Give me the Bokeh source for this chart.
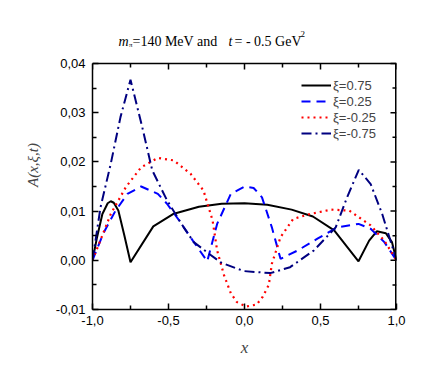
import math
from bokeh.plotting import figure
from bokeh.models import FixedTicker, CustomJSTickFormatter, Label, Range1d
from bokeh.embed import file_html
from bokeh.resources import INLINE

# ---- data ----
x_p075 = [-1, -0.97, -0.935, -0.90, -0.88, -0.86, -0.83, -0.79, -0.75, -0.60, -0.47, -0.30, -0.15, 0.0,
          0.15, 0.31, 0.45, 0.59, 0.75, 0.82, 0.87, 0.93, 0.97, 1.0]
y_p075 = [0, 0.0047, 0.0094, 0.0116, 0.0120, 0.0117, 0.0101, 0.0050, -0.0004, 0.0069, 0.0094, 0.0109, 0.0115, 0.0116,
          0.0113, 0.0103, 0.0089, 0.0061, -0.0002, 0.0040, 0.0059, 0.0055, 0.0037, 0.0]

x_p025 = [-1, -0.93, -0.85, -0.77, -0.68, -0.57, -0.51, -0.43, -0.34, -0.245, -0.18, -0.09, 0.0, 0.06,
          0.115, 0.18, 0.237, 0.35, 0.48, 0.61, 0.75, 0.83, 0.92, 1.0]
y_p025 = [0, 0.0054, 0.0100, 0.0135, 0.0150, 0.0135, 0.0115, 0.0081, 0.0040, -0.0002, 0.0074, 0.0135, 0.0150, 0.0147,
          0.0128, 0.0067, 0.0003, 0.0020, 0.0044, 0.0067, 0.0074, 0.0064, 0.0037, 0]

x_m025 = [-1, -0.88, -0.78, -0.68, -0.57, -0.465, -0.355, -0.27, -0.21, -0.18, -0.135, -0.09, -0.05, 0.01,
          0.08, 0.12, 0.16, 0.18, 0.237, 0.32, 0.43, 0.57, 0.69, 0.75, 0.83, 0.92, 1.0]
y_m025 = [0, 0.0094, 0.0149, 0.0189, 0.0208, 0.0203, 0.0176, 0.0142, 0.0081, 0.0020, -0.0030, -0.0067, -0.0085, -0.0094,
          -0.0090, -0.0074, -0.0050, -0.0007, 0.0047, 0.0084, 0.0094, 0.0103, 0.0101, 0.0088, 0.0071, 0.0040, 0]

x_m075 = [-1, -0.947, -0.88, -0.816, -0.75, -0.673, -0.607, -0.51, -0.40, -0.334, -0.245, -0.158, -0.05, 0.0,
          0.17, 0.30, 0.456, 0.60, 0.675, 0.752, 0.83, 0.906, 1.0]
y_m075 = [0, 0.0108, 0.0196, 0.0291, 0.0367, 0.0271, 0.0183, 0.0122, 0.0067, 0.0037, 0.0016, -0.0004, -0.0017, -0.0022,
          -0.0026, -0.0014, 0.0020, 0.0067, 0.0128, 0.0184, 0.0155, 0.0094, 0]

series_labels = ["ξ=0.75", "ξ=0.25", "ξ=-0.25", "ξ=-0.75"]
x_ticks = [-1.0, -0.5, 0.0, 0.5, 1.0]
x_minor = [-0.75, -0.25, 0.25, 0.75]
y_ticks = [-0.01, 0.0, 0.01, 0.02, 0.03, 0.04]
y_minor = [-0.005, 0.005, 0.015, 0.025, 0.035]
x_lo, x_hi = -1.0, 1.0
y_lo, y_hi = -0.01, 0.04

# layout: the frame is stretched upward so the title (Labels are clipped to the frame) fits inside it
W, H = 447, 382
top_b, bot_b = 20, 73
box_px = 246                      # pixel height of the drawn box (y_lo..y_hi)
frame_px = H - top_b - bot_b
y_top = y_lo + (y_hi - y_lo) * frame_px / box_px

p = figure(width=W, height=H, output_backend="svg", toolbar_location=None,
           x_range=Range1d(x_lo, x_hi), y_range=Range1d(y_lo, y_top),
           min_border_left=92, min_border_right=51, min_border_top=top_b, min_border_bottom=bot_b)
p.grid.visible = False
p.outline_line_color = None
p.background_fill_color = "white"

p.line(x_p075, y_p075, line_color="black", line_width=2, legend_label=series_labels[0])
p.line(x_p025, y_p025, line_color="#0000FF", line_width=2, line_dash="9 6", legend_label=series_labels[1])
p.line(x_m025, y_m025, line_color="#FF0000", line_width=2.2, line_dash="2 4", legend_label=series_labels[2])
p.line(x_m075, y_m075, line_color="#000080", line_width=2, line_dash="10 4 2 4", legend_label=series_labels[3])

# box: top and right edges
p.segment(x0=[x_lo], y0=[y_hi], x1=[x_hi], y1=[y_hi], line_color="black", line_width=1.5)
p.segment(x0=[x_hi], y0=[y_lo], x1=[x_hi], y1=[y_hi], line_color="black", line_width=3)
# mirrored inward ticks on top and right
p.ray(x=x_ticks, y=[y_hi] * len(x_ticks), length=6, length_units="screen", angle=-math.pi / 2,
      line_color="black", line_width=1.5)
p.ray(x=x_minor, y=[y_hi] * len(x_minor), length=4, length_units="screen", angle=-math.pi / 2,
      line_color="black", line_width=1.5)
p.ray(x=[x_hi] * len(y_ticks), y=y_ticks, length=6, length_units="screen", angle=math.pi,
      line_color="black", line_width=1.5)
p.ray(x=[x_hi] * len(y_minor), y=y_minor, length=4, length_units="screen", angle=math.pi,
      line_color="black", line_width=1.5)

xt = FixedTicker(ticks=x_ticks, minor_ticks=x_minor)
yt = FixedTicker(ticks=y_ticks, minor_ticks=y_minor)
xf = CustomJSTickFormatter(code="return tick.toFixed(1).replace('.', ',');")
yf = CustomJSTickFormatter(code="return tick.toFixed(2).replace('.', ',');")

for ax in (p.xaxis[0], p.yaxis[0]):
    ax.axis_line_width = 1.5
    ax.axis_line_color = "black"
    ax.major_tick_in = 6
    ax.major_tick_out = 0
    ax.minor_tick_in = 4
    ax.minor_tick_out = 0
    ax.major_tick_line_width = 1.5
    ax.minor_tick_line_width = 1.5
    ax.major_label_text_font = "Liberation Sans"
    ax.major_label_text_font_size = "13px"
    ax.major_label_text_color = "black"

p.xaxis.ticker = xt
p.xaxis.formatter = xf
p.yaxis.ticker = yt
p.yaxis.formatter = yf
p.yaxis.bounds = (y_lo, y_hi)
p.xaxis.major_label_standoff = 6
p.yaxis.major_label_standoff = 7

p.xaxis.axis_label = "x"
p.xaxis.axis_label_text_font = "Liberation Serif"
p.xaxis.axis_label_text_font_style = "italic"
p.xaxis.axis_label_text_font_size = "17px"
p.xaxis.axis_label_standoff = 10
p.yaxis.axis_label = "A(x,ξ,t)"
p.yaxis.axis_label_text_font = "Liberation Serif"
p.yaxis.axis_label_text_font_style = "italic"
p.yaxis.axis_label_text_font_size = "15px"
p.yaxis.axis_label_standoff = 12

leg = p.legend[0]
leg.padding = 5
leg.spacing = 0
leg.glyph_width = 30
leg.glyph_height = 16
leg.label_height = 16
leg.label_standoff = 2
leg.location = (209, 168)   # bottom-left corner, px from the frame's bottom-left
leg.border_line_color = None
leg.background_fill_alpha = 0
leg.label_text_font = "Liberation Sans"
leg.label_text_font_size = "13px"

# ---- title built from pieces: page x and baseline y converted to offsets from (0, y_hi) ----
fx0 = 244        # page x of data x = 0
box_top = 63     # page y of y_hi
serif = "Liberation Serif"
pieces = [
    ("m", 118, 41, "14px", "italic"),
    ("π", 128.5, 44, "7px", "normal"),
    ("=140 MeV and", 132, 41, "14px", "normal"),
    ("t", 228, 41, "14px", "italic"),
    ("= - 0.5 GeV", 234, 41, "14px", "normal"),
    ("2", 300, 33, "9px", "normal"),
]
for txt, px, py, fs, st in pieces:
    p.add_layout(Label(x=0, y=y_hi, x_offset=px - fx0, y_offset=box_top - py, text=txt,
                       text_font=serif, text_font_size=fs, text_font_style=st,
                       text_align="left", text_baseline="alphabetic", text_color="black"))

open("out.html", "w").write(file_html(p, INLINE))
